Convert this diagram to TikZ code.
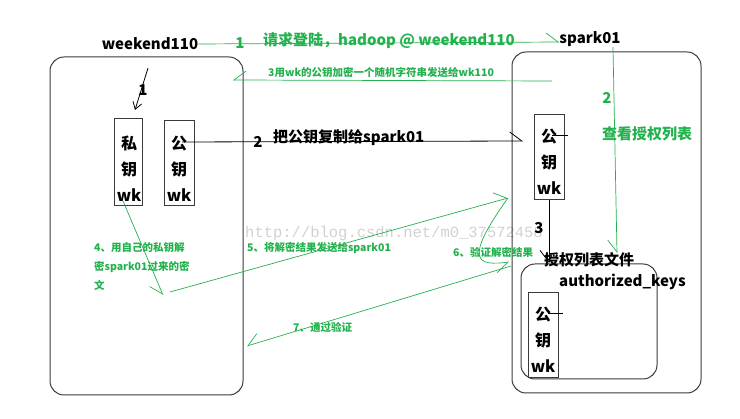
\documentclass[tikz,border=0pt]{standalone}
\usepackage{fontspec}
\setmainfont{Noto Sans CJK SC}
\newfontfamily\wmfont{Liberation Mono}
\usetikzlibrary{arrows.meta}
\definecolor{pgreen}{HTML}{22B14C}
\definecolor{boxgray}{HTML}{3A3A3A}
\begin{document}
\begin{tikzpicture}[x=1pt,y=-1pt,
  gline/.style={draw=pgreen,line width=0.7pt},
  bline/.style={draw=black,line width=0.8pt},
  hbl/.style={-{Straight Barb[harpoon,length=12pt,width=18pt]}},
  hbr/.style={-{Straight Barb[harpoon,swap,length=12pt,width=18pt]}},
  fullbarb/.style={-{Straight Barb[length=7pt,width=9pt]}},
  bigbox/.style={draw=boxgray,line width=1pt,rounded corners=14pt,inner sep=0pt},
  keybox/.style={draw=boxgray,line width=1pt,inner sep=0pt,minimum width=30pt,minimum height=85pt},
  keytxt/.style={font=\bfseries\fontsize{16}{26}\selectfont,align=center,inner sep=0pt},
  btxt/.style={font=\bfseries\fontsize{15}{18}\selectfont,text=black,inner sep=0pt},
  gtxt/.style={font=\bfseries\fontsize{15}{18}\selectfont,text=pgreen,inner sep=0pt},
  gsmall/.style={font=\bfseries\fontsize{10.5}{12}\selectfont,text=pgreen,inner sep=0pt},
  wmark/.style={font=\wmfont\fontsize{15.5}{18}\selectfont,text=black!18,inner sep=0pt}
]
\useasboundingbox (0,0) rectangle (740,419);

% watermark
\node[wmark,anchor=west] (wm) at (245,233) {http://blog.csdn.net/m0\_37572458};

% big boxes
\node[bigbox,minimum width=193pt,minimum height=338pt] (lbox) at (146.5,226) {};
\node[bigbox,minimum width=189pt,minimum height=341pt] (rbox) at (606.5,222.5) {};
\node[bigbox,minimum width=136pt,minimum height=115pt] (akbox) at (589,321.5) {};

% key boxes
\node[keybox,minimum width=28pt,minimum height=87pt] (priv) at (128,162.5) {};
\node[keybox] (pubL) at (179,163.5) {};
\node[keybox] (pubR) at (549,157.5) {};
\node[keybox,fill=white] (pubK) at (543,335.5) {};

\node[keytxt] (privtxt) at (129,169) {私\\钥\\wk};
\node[keytxt] (pubLtxt) at (179,169) {公\\钥\\wk};
\node[keytxt] (pubRtxt) at (549,162) {公\\钥\\wk};
\node[keytxt] (pubKtxt) at (543,340) {公\\钥\\wk};

% title nodes
\node[btxt] (wk110) at (150,44) {weekend110};
\node[btxt] (spark) at (590,39) {spark01};

% coordinates
\coordinate (a3s) at (552,81);
\coordinate (a3e) at (233,80);
\coordinate (o1s) at (148,68);
\coordinate (o1e) at (135,110);
\coordinate (a2s) at (182,142);
\coordinate (a2e) at (523,141);
\coordinate (g2s) at (613,47);
\coordinate (g2e) at (617,253);
\coordinate (tk1s) at (552,135);
\coordinate (tk1e) at (568,135);
\coordinate (tk2s) at (548,313);
\coordinate (tk2e) at (563,313);
\coordinate (a4s) at (123,201);
\coordinate (a4e) at (163,295);
\coordinate (a5s) at (170,292);
\coordinate (a5e) at (508,198);
\coordinate (a6e) at (509,262);
\coordinate (a7s) at (511,266);
\coordinate (a7e) at (247,346);

% connectors
\draw[gline,hbl] (wk110.east) -- ([yshift=-3pt]spark.west);
\draw[gline,hbr] (a3s) -- (a3e);
\draw[bline,fullbarb] (o1s) -- (o1e);
\draw[bline,hbl] (a2s) -- (a2e);
\draw[gline,hbr] (g2s) -- (g2e);
\draw[bline] (tk1s) -- (tk1e);
\draw[bline] (tk2s) -- (tk2e);
\draw[bline,hbr] (pubR.south) -- (pubR.south |- akbox.north);
\draw[gline,hbr] (a4s) -- (a4e);
\draw[gline,hbl] (a5s) -- (a5e);
\draw[gline,hbr] (a5e) .. controls (462,262) and (478,266) .. (a6e);
\draw[gline,hbr] (a7s) -- (a7e);

% labels
\node[gtxt] (n1) at (240,43) {1};
\node[gtxt,anchor=west] (t1) at (263,41) {请求登陆，hadoop @ weekend110};
\node[gsmall,anchor=west] (t3) at (268,72) {3用wk的公钥加密一个随机字符串发送给wk110};
\node[btxt] (one) at (143,90) {1};
\node[btxt] (n2) at (258,142) {2};
\node[btxt,anchor=west] (t2) at (273,138) {把公钥复制给spark01};
\node[gtxt] (g2n) at (607,98) {2};
\node[gtxt,anchor=west] (g2t) at (602,134) {查看授权列表};
\node[btxt] (n3) at (539,228) {3};
\node[btxt,anchor=west] (ak1) at (544,260) {授权列表文件};
\node[btxt,anchor=west] (ak2) at (559,282) {authorized\_keys};
\node[gsmall,anchor=west] (t4a) at (94,248) {4、用自己的私钥解};
\node[gsmall,anchor=west] (t4b) at (94,267) {密spark01过来的密};
\node[gsmall,anchor=west] (t4c) at (94,285) {文};
\node[gsmall,anchor=west] (t5) at (247,248) {5、将解密结果发送给spark01};
\node[gsmall,anchor=west] (t6) at (453,252) {6、验证解密结果};
\node[gsmall,anchor=west] (t7) at (293,327) {7、通过验证};
\end{tikzpicture}
\end{document}
